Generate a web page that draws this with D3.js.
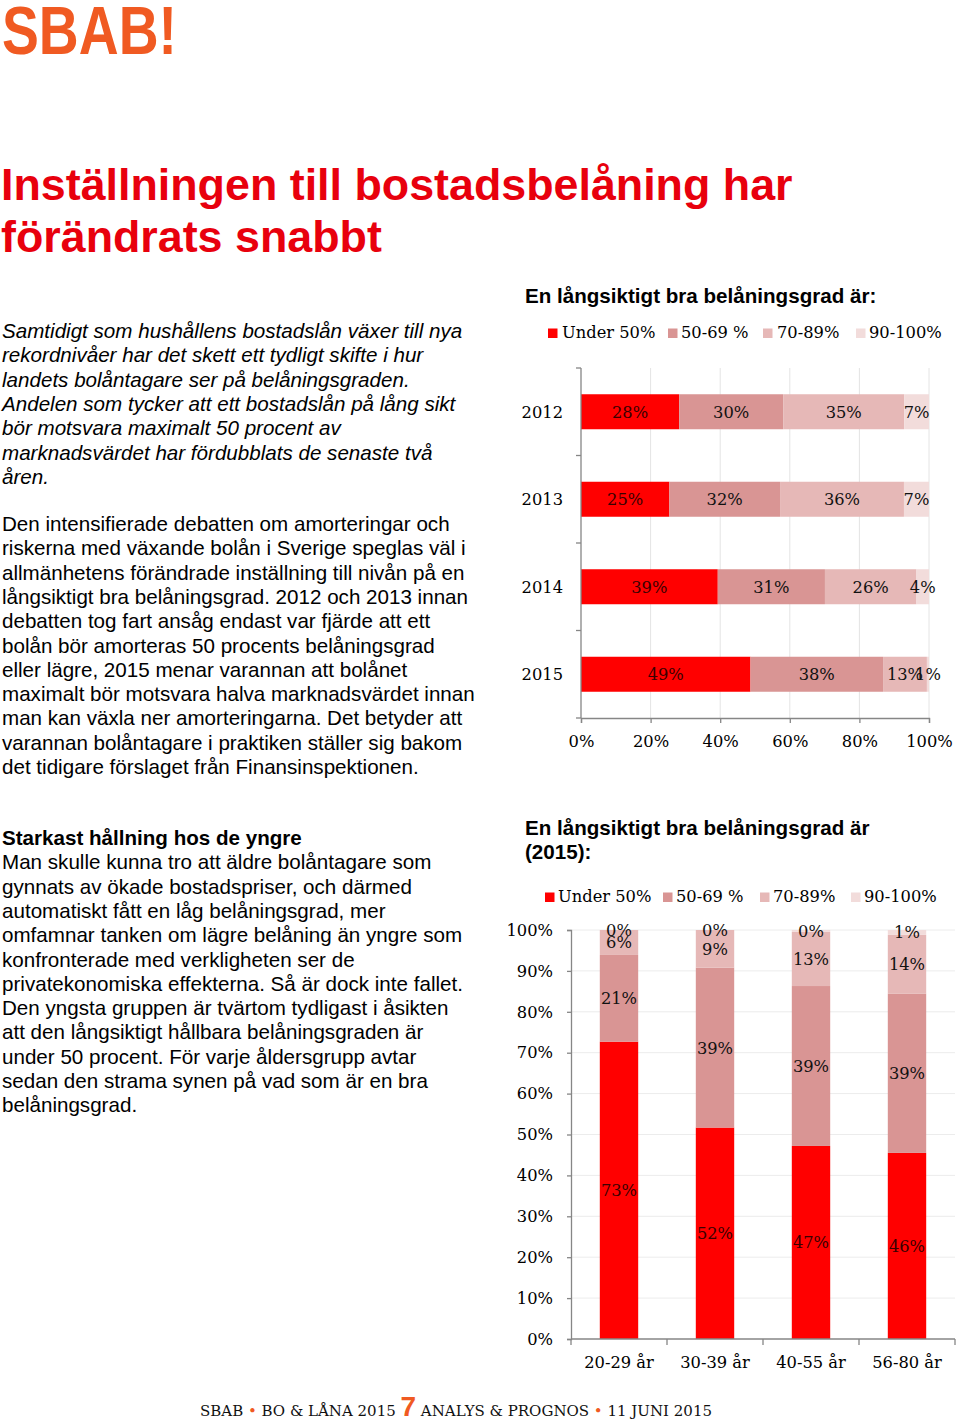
<!DOCTYPE html>
<html><head><meta charset="utf-8">
<script src="https://cdn.jsdelivr.net/npm/d3@7"></script>
<style>
html,body{margin:0;padding:0;background:#fff;}
svg{display:block;}
</style></head>
<body>
<svg id="page" width="960" height="1420"></svg>
<script>
// ---------- DATA ----------
const segmentKeys = ["Under 50%", "50-69 %", "70-89%", "90-100%"];
const years = ["2012", "2013", "2014", "2015"];
const yearUnder50 = [28.2, 25.4, 39.3, 48.7];
const year50to69 = [29.9, 31.8, 30.8, 38.1];
const year70to89 = [34.8, 35.6, 26.3, 12.6];
const year90to100 = [7.1, 7.2, 3.6, 0.6];
const xTicksTop = [0, 20, 40, 60, 80, 100];

const ageGroups = ["20-29 år", "30-39 år", "40-55 år", "56-80 år"];
const ageUnder50 = [72.7, 51.7, 47.2, 45.5];
const age50to69 = [21.2, 39.1, 39.1, 38.9];
const age70to89 = [6.1, 9.2, 13.3, 14.4];
const age90to100 = [0.0, 0.0, 0.4, 1.2];
const yTicksBottom = [0, 10, 20, 30, 40, 50, 60, 70, 80, 90, 100];

const colors = ["#ff0000", "#d99594", "#e6b8b7", "#f2dcdb"];

const titleLines = ["Inställningen till bostadsbelåning har", "förändrats snabbt"];
const para1 = [
 "Samtidigt som hushållens bostadslån växer till nya",
 "rekordnivåer har det skett ett tydligt skifte i hur",
 "landets bolåntagare ser på belåningsgraden.",
 "Andelen som tycker att ett bostadslån på lång sikt",
 "bör motsvara maximalt 50 procent av",
 "marknadsvärdet har fördubblats de senaste två",
 "åren."
];
const para2 = [
 "Den intensifierade debatten om amorteringar och",
 "riskerna med växande bolån i Sverige speglas väl i",
 "allmänhetens förändrade inställning till nivån på en",
 "långsiktigt bra belåningsgrad. 2012 och 2013 innan",
 "debatten tog fart ansåg endast var fjärde att ett",
 "bolån bör amorteras 50 procents belåningsgrad",
 "eller lägre, 2015 menar varannan att bolånet",
 "maximalt bör motsvara halva marknadsvärdet innan",
 "man kan växla ner amorteringarna. Det betyder att",
 "varannan bolåntagare i praktiken ställer sig bakom",
 "det tidigare förslaget från Finansinspektionen."
];
const para3Head = "Starkast hållning hos de yngre";
const para3 = [
 "Man skulle kunna tro att äldre bolåntagare som",
 "gynnats av ökade bostadspriser, och därmed",
 "automatiskt fått en låg belåningsgrad, mer",
 "omfamnar tanken om lägre belåning än yngre som",
 "konfronterade med verkligheten ser de",
 "privatekonomiska effekterna. Så är dock inte fallet.",
 "Den yngsta gruppen är tvärtom tydligast i åsikten",
 "att den långsiktigt hållbara belåningsgraden är",
 "under 50 procent. För varje åldersgrupp avtar",
 "sedan den strama synen på vad som är en bra",
 "belåningsgrad."
];
const chart1Title = "En långsiktigt bra belåningsgrad är:";
const chart2Title = ["En långsiktigt bra belåningsgrad är", "(2015):"];

// ---------- PAGE ----------
const svg = d3.select("#page");
const SANS = "'Liberation Sans', Arial, sans-serif";
const SERIF = "'DejaVu Serif', serif";
const ORANGE = "#f05a22";

// logo
svg.append("text").attr("x", 2).attr("y", 54)
  .attr("font-family", SANS).attr("font-weight", "bold").attr("font-size", 68)
  .attr("textLength", 175).attr("lengthAdjust", "spacingAndGlyphs")
  .attr("fill", ORANGE).text("SBAB!");

// title
svg.selectAll("text.title").data(titleLines).enter().append("text")
  .attr("x", 1).attr("y", (d, i) => 200 + i * 52)
  .attr("font-family", SANS).attr("font-weight", "bold").attr("font-size", 44.8)
  .attr("fill", "#e8000d").text(d => d);

function para(lines, y0, opts) {
  svg.append("g").selectAll("text").data(lines).enter().append("text")
    .attr("x", 2).attr("y", (d, i) => y0 + i * 24.3)
    .attr("font-family", SANS).attr("font-size", 20.6)
    .attr("font-style", opts.italic ? "italic" : "normal")
    .attr("fill", "#000").text(d => d);
}
para(para1, 338, {italic: true});
para(para2, 531, {});
svg.append("text").attr("x", 2).attr("y", 845)
  .attr("font-family", SANS).attr("font-weight", "bold").attr("font-size", 20.6)
  .text(para3Head);
para(para3, 869.3, {});

// ---------- footer ----------
const foot = svg.append("text").attr("x", 200).attr("y", 1416)
  .attr("font-family", SERIF).attr("font-size", 15).attr("fill", "#111");
foot.append("tspan").text("SBAB ");
foot.append("tspan").attr("fill", ORANGE).text("•");
foot.append("tspan").text(" BO & LÅNA 2015 ");
foot.append("tspan").attr("fill", ORANGE).attr("font-family", SANS).attr("font-weight", "bold").attr("font-size", 28).text("7");
foot.append("tspan").text(" ANALYS & PROGNOS ");
foot.append("tspan").attr("fill", ORANGE).text("•");
foot.append("tspan").text(" 11 JUNI 2015");

// ---------- legend helper ----------
function legend(g, items, sqX, txX, y) {
  items.forEach((k, i) => {
    g.append("rect").attr("x", sqX[i]).attr("y", y - 9.5).attr("width", 9.5).attr("height", 9.5).attr("fill", colors[i]);
    g.append("text").attr("x", txX[i]).attr("y", y)
      .attr("font-family", SERIF).attr("font-size", 16.3).attr("fill", "#000").text(k);
  });
}

// ---------- Chart 1: horizontal stacked bars ----------
{
  const g = svg.append("g");
  g.append("text").attr("x", 525).attr("y", 303)
    .attr("font-family", SANS).attr("font-weight", "bold").attr("font-size", 20.6).text(chart1Title);
  legend(g, segmentKeys, [548, 668, 763, 856], [562, 681, 777, 869], 338);

  const rows = years.map((y, i) => ({year: y, vals: [yearUnder50[i], year50to69[i], year70to89[i], year90to100[i]]}));
  const x = d3.scaleLinear().domain([0, 100]).range([581, 929]);
  const y = d3.scaleBand().domain(years).range([368, 718]).paddingInner(0.6).paddingOuter(0.3);

  // gridlines
  g.append("g").selectAll("line").data(xTicksTop.slice(1)).enter().append("line")
    .attr("x1", d => x(d)).attr("x2", d => x(d)).attr("y1", 368).attr("y2", 718)
    .attr("stroke", "#e4e4e4").attr("stroke-width", 1);

  rows.forEach(r => {
    let acc = 0;
    r.vals.forEach((v, k) => {
      const x0 = x(acc), x1 = x(acc + v);
      g.append("rect").attr("x", x0).attr("y", y(r.year)).attr("width", Math.max(0, x1 - x0))
        .attr("height", y.bandwidth()).attr("fill", colors[k]);
      g.append("text").attr("x", (x0 + x1) / 2).attr("y", y(r.year) + y.bandwidth() / 2 + 6)
        .attr("text-anchor", "middle").attr("font-family", SERIF).attr("font-size", 16.3)
        .attr("fill", k === 0 ? "#3a0000" : "#111").text(Math.round(v) + "%");
      acc += v;
    });
  });

  // y axis
  const yAxisG = g.append("g");
  yAxisG.append("line").attr("x1", 581).attr("x2", 581).attr("y1", 368).attr("y2", 718).attr("stroke", "#868686").attr("stroke-width", 1.3);
  const bounds = [0, 1, 2, 3, 4].map(i => 368 + i * y.step());
  yAxisG.selectAll("line.t").data(bounds).enter().append("line")
    .attr("x1", 576).attr("x2", 581).attr("y1", d => d).attr("y2", d => d).attr("stroke", "#868686").attr("stroke-width", 1.3);
  yAxisG.selectAll("text").data(years).enter().append("text")
    .attr("x", 563).attr("y", d => y(d) + y.bandwidth() / 2 + 6).attr("text-anchor", "end")
    .attr("font-family", SERIF).attr("font-size", 16.3).text(d => d);

  // x axis
  const xa = g.append("g").attr("transform", "translate(0,718)")
    .call(d3.axisBottom(x).tickValues(xTicksTop).tickFormat(d => d + "%").tickSize(5).tickPadding(12));
  xa.select(".domain").attr("stroke", "#868686").attr("stroke-width", 1.3);
  xa.selectAll(".tick line").attr("stroke", "#868686").attr("stroke-width", 1.3);
  xa.selectAll("text").attr("font-family", SERIF).attr("font-size", 16.3).attr("fill", "#000");
}

// ---------- Chart 2: vertical stacked bars ----------
{
  const g = svg.append("g");
  chart2Title.forEach((t, i) => g.append("text").attr("x", 525).attr("y", 835 + i * 24)
    .attr("font-family", SANS).attr("font-weight", "bold").attr("font-size", 20.6).text(t));
  legend(g, segmentKeys, [545, 663, 760, 851], [558, 676, 773, 864], 902);

  const cols = ageGroups.map((a, i) => ({age: a, vals: [ageUnder50[i], age50to69[i], age70to89[i], age90to100[i]]}));
  const x = d3.scaleBand().domain(ageGroups).range([571, 955]).paddingInner(0.6).paddingOuter(0.3);
  const y = d3.scaleLinear().domain([0, 100]).range([1339, 930]);

  g.append("g").selectAll("line").data(yTicksBottom.slice(1)).enter().append("line")
    .attr("x1", 571).attr("x2", 955).attr("y1", d => y(d)).attr("y2", d => y(d))
    .attr("stroke", "#ececec").attr("stroke-width", 1);

  cols.forEach(c => {
    let acc = 0;
    c.vals.forEach((v, k) => {
      const y0 = y(acc), y1 = y(acc + v);
      g.append("rect").attr("x", x(c.age)).attr("y", y1).attr("width", x.bandwidth())
        .attr("height", Math.max(0, y0 - y1)).attr("fill", colors[k]);
      acc += v;
    });
  });
  cols.forEach(c => {
    let acc = 0;
    c.vals.forEach((v, k) => {
      const y0 = y(acc), y1 = y(acc + v);
      g.append("text").attr("x", x(c.age) + x.bandwidth() / 2).attr("y", (y0 + y1) / 2 + 6)
        .attr("text-anchor", "middle").attr("font-family", SERIF).attr("font-size", 16.3)
        .attr("fill", k === 0 ? "#3a0000" : "#111").text(Math.round(v) + "%");
      acc += v;
    });
  });

  const ya = g.append("g").attr("transform", "translate(571,0)")
    .call(d3.axisLeft(y).tickValues(yTicksBottom).tickFormat(d => d + "%").tickSize(4).tickPadding(14));
  ya.select(".domain").attr("stroke", "#868686").attr("stroke-width", 1.3);
  ya.selectAll(".tick line").attr("stroke", "#868686").attr("stroke-width", 1.3);
  ya.selectAll("text").attr("font-family", SERIF).attr("font-size", 16.3).attr("fill", "#000");

  const xa = g.append("g").attr("transform", "translate(0,1339)");
  xa.append("line").attr("x1", 571).attr("x2", 955).attr("stroke", "#868686").attr("stroke-width", 1.3);
  const bnds = [0, 1, 2, 3, 4].map(i => 571 + i * x.step());
  xa.selectAll("line.t").data(bnds).enter().append("line")
    .attr("x1", d => d).attr("x2", d => d).attr("y1", 0).attr("y2", 6).attr("stroke", "#868686").attr("stroke-width", 1.3);
  xa.selectAll("text").data(ageGroups).enter().append("text")
    .attr("x", d => x(d) + x.bandwidth() / 2).attr("y", 29).attr("text-anchor", "middle")
    .attr("font-family", SERIF).attr("font-size", 16.3).text(d => d);
}
</script>
</body></html>
